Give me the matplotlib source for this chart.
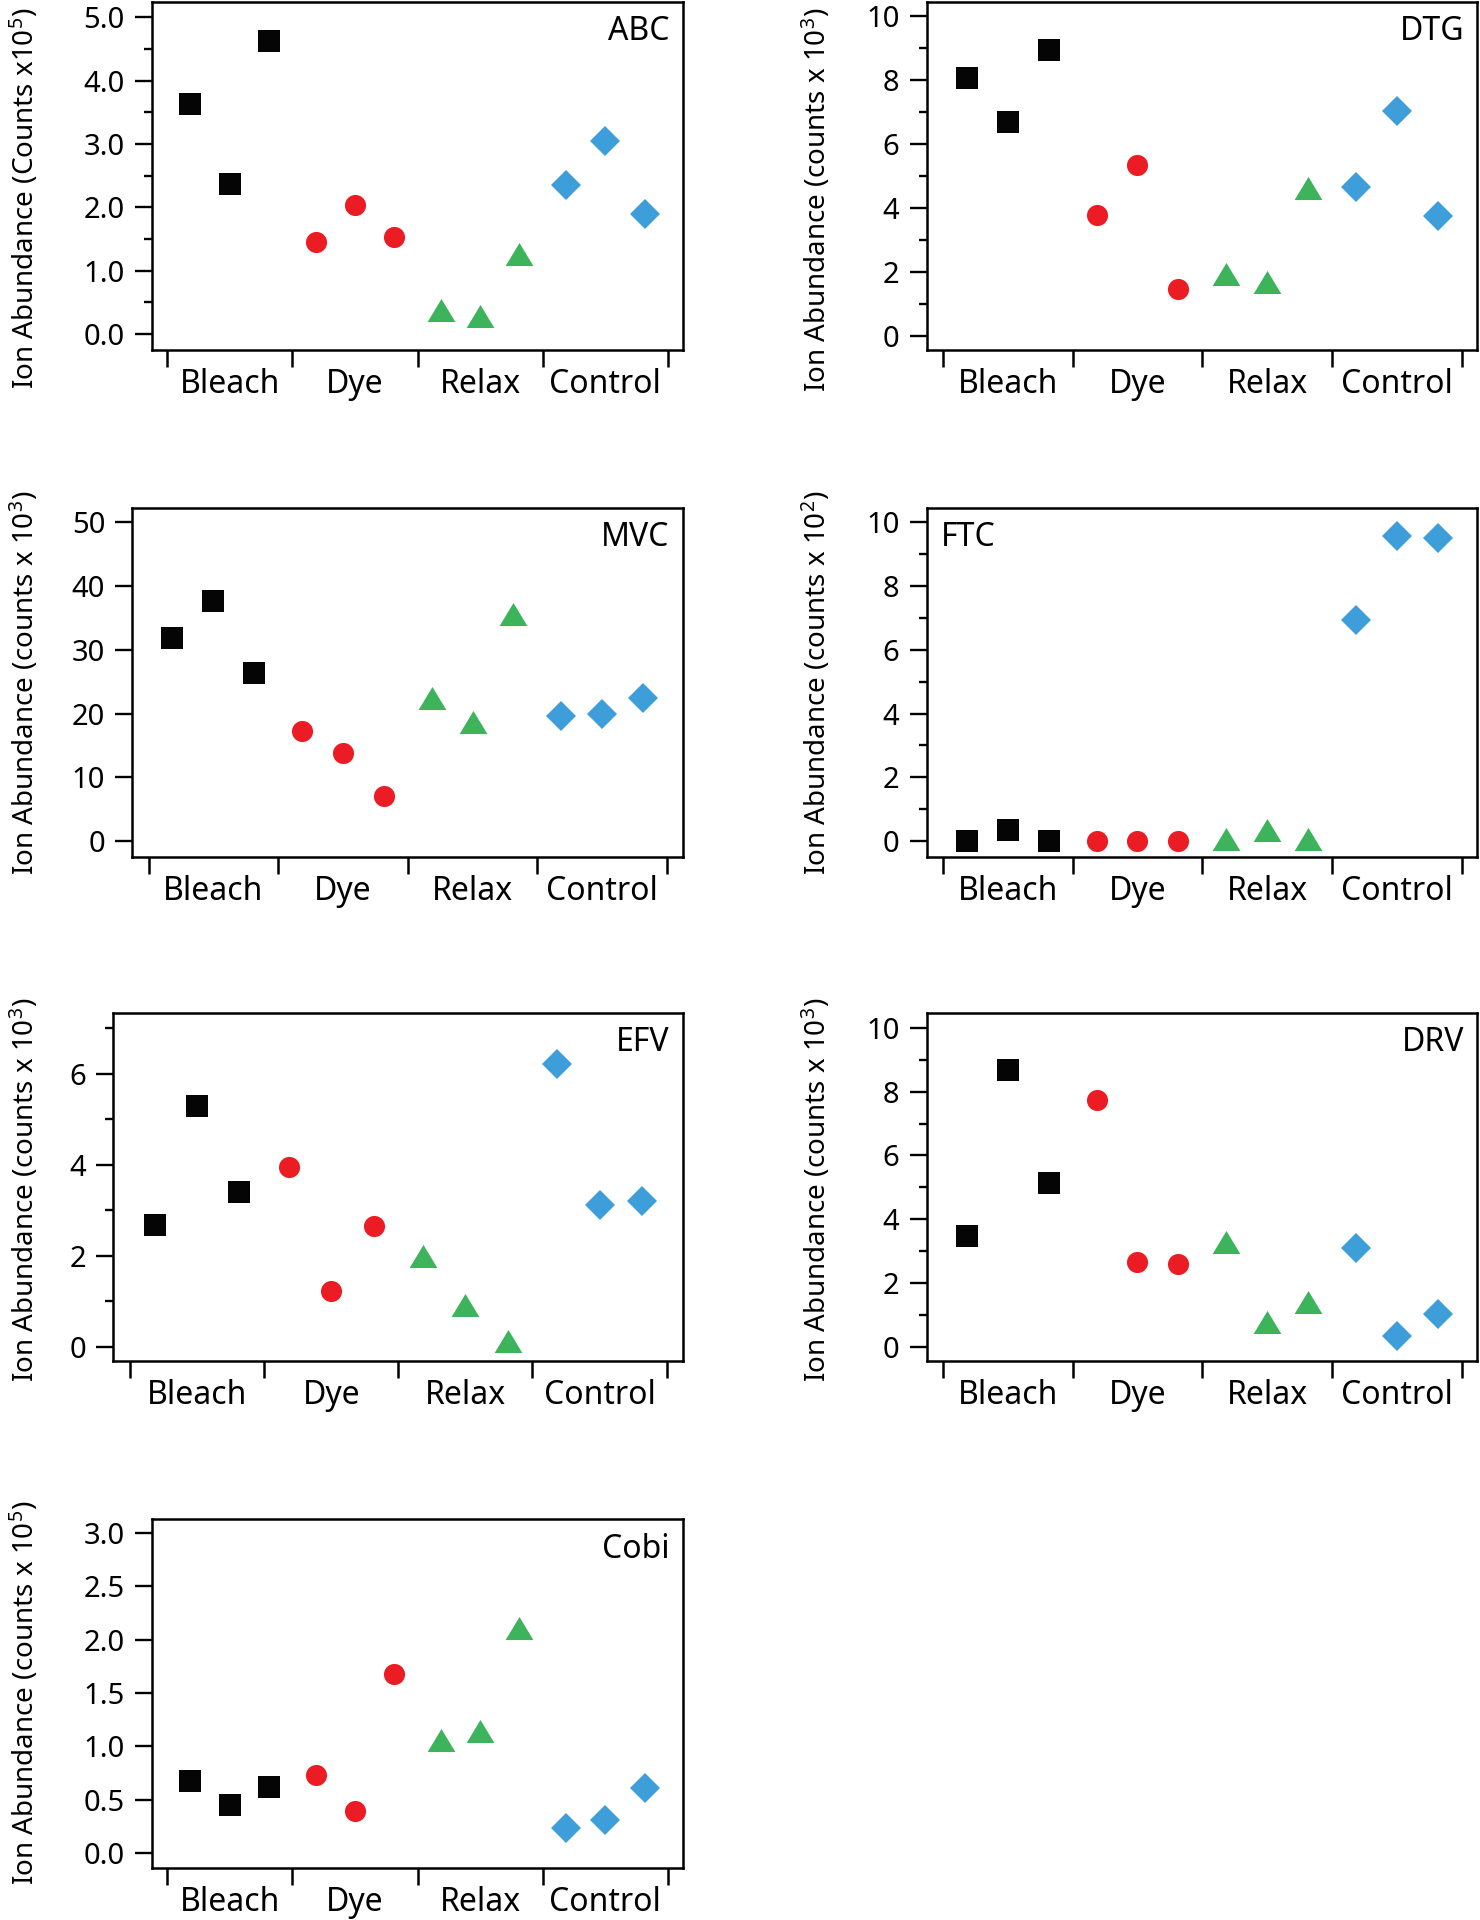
import numpy as np
import matplotlib
matplotlib.use('Agg')
import matplotlib.pyplot as plt
from matplotlib.ticker import MultipleLocator, FixedLocator, FormatStrFormatter, NullFormatter

plt.rcParams['font.family'] = ['Noto Sans', 'DejaVu Sans']
plt.rcParams['mathtext.fontset'] = 'custom'
plt.rcParams['mathtext.rm'] = 'Noto Sans'
plt.rcParams['mathtext.it'] = 'Noto Sans:italic'

groups = ['Bleach', 'Dye', 'Relax', 'Control']

# values, three replicates per treatment
abc_bleach = [3.63, 2.37, 4.62]
abc_dye = [1.46, 2.04, 1.54]
abc_relax = [0.38, 0.29, 1.27]
abc_control = [2.35, 3.04, 1.90]

dtg_bleach = [8.05, 6.68, 8.93]
dtg_dye = [3.77, 5.34, 1.46]
dtg_relax = [1.93, 1.68, 4.62]
dtg_control = [4.66, 7.04, 3.76]

mvc_bleach = [31.8, 37.6, 26.3]
mvc_dye = [17.3, 13.8, 7.1]
mvc_relax = [22.4, 18.6, 35.6]
mvc_control = [19.6, 20.0, 22.4]

ftc_bleach = [0.0, 0.35, 0.0]
ftc_dye = [0.0, 0.0, 0.0]
ftc_relax = [0.08, 0.35, 0.08]
ftc_control = [6.94, 9.58, 9.52]

efv_bleach = [2.67, 5.29, 3.40]
efv_dye = [3.94, 1.22, 2.66]
efv_relax = [2.00, 0.91, 0.13]
efv_control = [6.20, 3.11, 3.20]

drv_bleach = [3.47, 8.69, 5.12]
drv_dye = [7.73, 2.66, 2.58]
drv_relax = [3.29, 0.78, 1.41]
drv_control = [3.11, 0.34, 1.04]

cobi_bleach = [0.67, 0.45, 0.62]
cobi_dye = [0.73, 0.39, 1.68]
cobi_relax = [1.06, 1.14, 2.11]
cobi_control = [0.23, 0.31, 0.61]

W, H = 1480, 1920
fig = plt.figure(figsize=(W / 100, H / 100), dpi=100)

tri = [(0, 0.83), (-1, -0.83), (1, -0.83)]
styles = [dict(marker='s', color='#050505', ms=15.5),
          dict(marker='o', color='#EC1C24', ms=15.2),
          dict(marker=tri, color='#3DB35C', ms=20),
          dict(marker='D', color='#3E9EDA', ms=14.8)]
offs = np.array([-0.315, 0, 0.315])


def panel(rect, series, name, ylabel, ylim, major, minor, fmt, label_xy, name_left=False):
    x0, x1, top, bot = rect
    ax = fig.add_axes([x0 / W, 1 - bot / H, (x1 - x0) / W, (bot - top) / H])
    for g, (vals, st) in enumerate(zip(series, styles)):
        ax.plot(g + offs, vals, linestyle='none', marker=st['marker'],
                color=st['color'], ms=st['ms'], mew=0, clip_on=False)
    ax.set_xlim(-0.625, 3.62)
    ax.set_ylim(*ylim)
    for s in ax.spines.values():
        s.set_linewidth(1.8)
    # y axis
    ax.yaxis.set_major_locator(MultipleLocator(major))
    if minor:
        ax.yaxis.set_minor_locator(MultipleLocator(minor))
    ax.yaxis.set_major_formatter(FormatStrFormatter(fmt))
    ax.tick_params(axis='y', which='major', direction='out', length=12.5, width=1.7,
                   labelsize=21, pad=7)
    ax.tick_params(axis='y', which='minor', direction='out', length=6, width=1.7)
    # category axis: ticks at group boundaries, labels in between
    ax.xaxis.set_major_locator(FixedLocator([-0.5, 0.5, 1.5, 2.5, 3.5]))
    ax.xaxis.set_major_formatter(NullFormatter())
    ax.xaxis.set_minor_locator(FixedLocator([0, 1, 2, 3]))
    ax.set_xticklabels(groups, minor=True)
    ax.tick_params(axis='x', which='major', direction='out', length=12, width=1.8)
    ax.tick_params(axis='x', which='minor', length=0, labelsize=23, pad=13)
    if name_left:
        ax.text(0.025, 0.89, name, transform=ax.transAxes, fontsize=23, ha='left', va='baseline')
    else:
        ax.text(0.976, 0.89, name, transform=ax.transAxes, fontsize=23, ha='right', va='baseline')
    fig.text(label_xy[0] / W, 1 - label_xy[1] / H, ylabel, rotation=90,
             fontsize=20, ha='center', va='center')
    return ax


left_col = (151.7, 682.7)
right_col = (926.7, 1477.3)
rows = [(2, 350), (507.7, 856.7), (1013, 1361), (1519.3, 1867.7)]

panel((left_col[0], left_col[1]) + rows[0],
      [abc_bleach, abc_dye, abc_relax, abc_control], 'ABC',
      'Ion Abundance (Counts x10$^{5}$)', (-0.25, 5.24), 1.0, 0.5, '%.1f', (25, 198))
panel((right_col[0], right_col[1]) + rows[0],
      [dtg_bleach, dtg_dye, dtg_relax, dtg_control], 'DTG',
      'Ion Abundance (counts x 10$^{3}$)', (-0.44, 10.43), 2, 1, '%d', (817, 200))
panel((132.3, left_col[1]) + rows[1],
      [mvc_bleach, mvc_dye, mvc_relax, mvc_control], 'MVC',
      'Ion Abundance (counts x 10$^{3}$)', (-2.46, 52.3), 10, None, '%d', (25, 683))
panel((right_col[0], right_col[1]) + rows[1],
      [ftc_bleach, ftc_dye, ftc_relax, ftc_control], 'FTC',
      'Ion Abundance (counts x 10$^{2}$)', (-0.49, 10.46), 2, 1, '%d', (817, 683), name_left=True)
panel((113.3, left_col[1]) + rows[2],
      [efv_bleach, efv_dye, efv_relax, efv_control], 'EFV',
      'Ion Abundance (counts x 10$^{3}$)', (-0.31, 7.33), 2, 1, '%d', (25, 1190))
panel((right_col[0], right_col[1]) + rows[2],
      [drv_bleach, drv_dye, drv_relax, drv_control], 'DRV',
      'Ion Abundance (counts x 10$^{3}$)', (-0.45, 10.47), 2, 1, '%d', (817, 1190))
panel((left_col[0], left_col[1]) + rows[3],
      [cobi_bleach, cobi_dye, cobi_relax, cobi_control], 'Cobi',
      'Ion Abundance (counts x 10$^{5}$)', (-0.14, 3.13), 0.5, None, '%.1f', (25, 1693))

fig.savefig('out.png', dpi=100)
